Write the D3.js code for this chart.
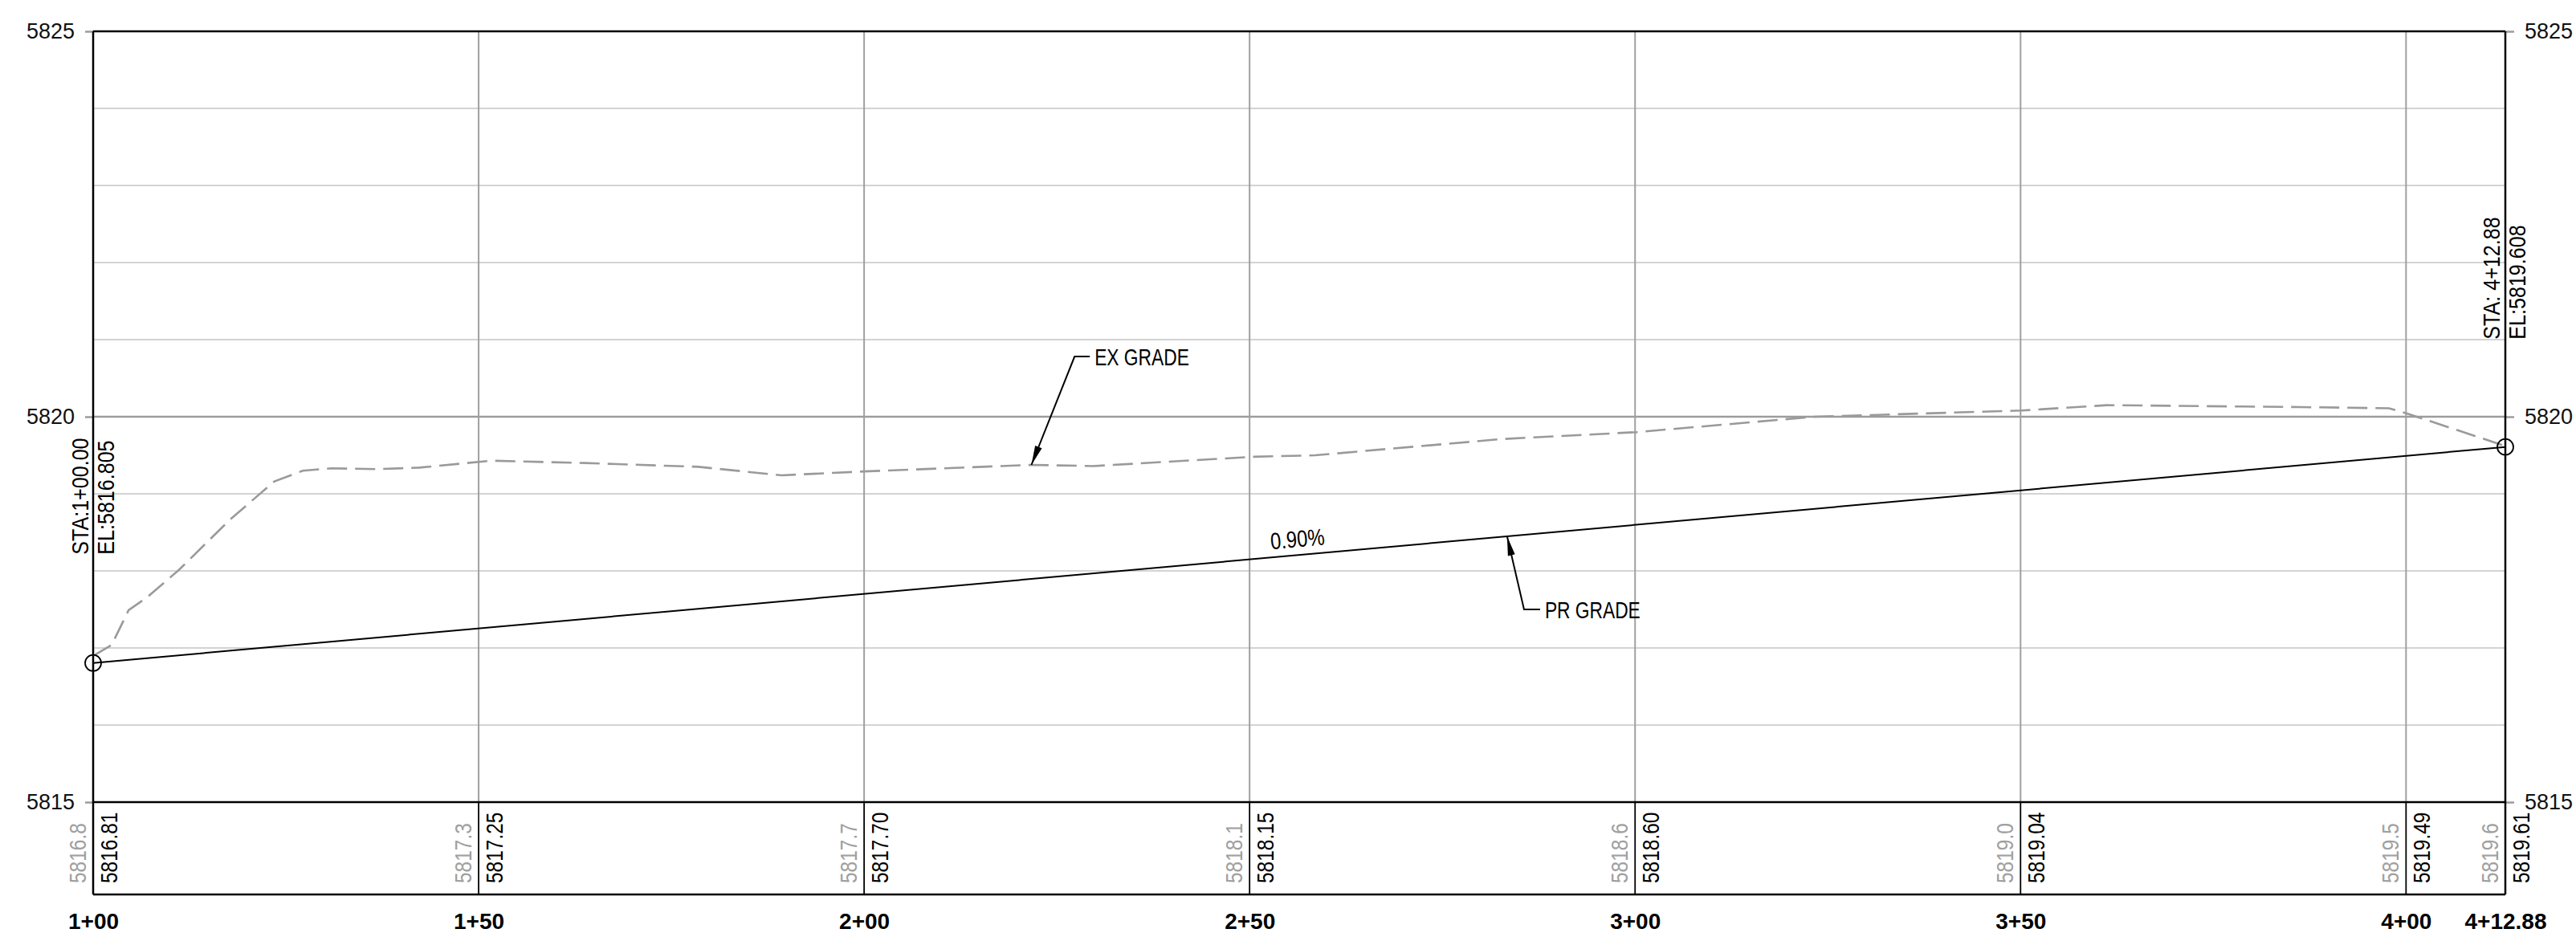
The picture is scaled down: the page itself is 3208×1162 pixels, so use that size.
<!DOCTYPE html>
<html>
<head>
<meta charset="utf-8">
<script src="https://cdn.jsdelivr.net/npm/d3@7/dist/d3.min.js"></script>
<style>
  html, body { margin: 0; padding: 0; background: #fff; }
  svg { display: block; }
  text { font-family: "Liberation Sans", Arial, sans-serif; }
</style>
</head>
<body>
<svg id="chart" width="3208" height="1162"></svg>
<script>
// ---------- DATA ----------
const stations = [100, 150, 200, 250, 300, 350, 400, 412.88];
const stationLabels = ["1+00", "1+50", "2+00", "2+50", "3+00", "3+50", "4+00", "4+12.88"];
const exElevLabels = ["5816.8", "5817.3", "5817.7", "5818.1", "5818.6", "5819.0", "5819.5", "5819.6"];
const prElevLabels = ["5816.81", "5817.25", "5817.70", "5818.15", "5818.60", "5819.04", "5819.49", "5819.61"];
const elevTicks = [5815, 5820, 5825];
const gridElevs = [5816, 5817, 5818, 5819, 5821, 5822, 5823, 5824];

const prStations = [100, 412.88];
const prElevs = [5816.805, 5819.608];
const prEndLabels = [["STA:1+00.00", "EL:5816.805"], ["STA: 4+12.88", "EL:5819.608"]];
const gradeText = "0.90%";

const exStations = [100.05, 102.4, 104.6, 106.9, 111.1, 117.8, 123.5, 127.2, 130.9, 137.0, 142.3, 151.7, 163.7, 178.5, 189.3, 200.0, 221.7, 229.7, 250.5, 258.5, 282.7, 300.2, 323.3, 350.1, 361.2, 386.3, 397.8, 400.2, 412.7];
const exElevs = [5816.90, 5817.04, 5817.49, 5817.65, 5818.01, 5818.67, 5819.16, 5819.30, 5819.33, 5819.32, 5819.34, 5819.43, 5819.40, 5819.35, 5819.24, 5819.29, 5819.375, 5819.36, 5819.48, 5819.50, 5819.71, 5819.80, 5820.00, 5820.08, 5820.15, 5820.125, 5820.11, 5820.04, 5819.625];

// annotation anchors (data units)
const exLeader = { tipStation: 221.7, bendStation: 227.3, bendElev: 5820.78, textStation: 229.9, textElev: 5820.665, text: "EX GRADE" };
const prLeader = { tipStation: 283.4, bendStation: 285.6, bendElev: 5817.50, textStation: 288.3, textElev: 5817.385, text: "PR GRADE" };
const gradeLabelStation = 252.8;

// ---------- LAYOUT ----------
const mLeft = 116, mRight = 3120, mTop = 39, plotBottom = 999, stripBottom = 1114;
const x = d3.scaleLinear().domain([stations[0], stations[stations.length - 1]]).range([mLeft, mRight]);
const y = d3.scaleLinear().domain([elevTicks[0], elevTicks[elevTicks.length - 1]]).range([plotBottom, mTop]);
const prAt = s => prElevs[0] + (s - prStations[0]) * (prElevs[1] - prElevs[0]) / (prStations[1] - prStations[0]);
const exAt = s => {
  for (let i = 1; i < exStations.length; i++) {
    if (s <= exStations[i]) {
      const t = (s - exStations[i-1]) / (exStations[i] - exStations[i-1]);
      return exElevs[i-1] + t * (exElevs[i] - exElevs[i-1]);
    }
  }
  return exElevs[exElevs.length - 1];
};

const svg = d3.select("#chart");
function narrow(sel, f) {
  sel.each(function() {
    const L = this.getComputedTextLength();
    d3.select(this).attr("textLength", L * f).attr("lengthAdjust", "spacingAndGlyphs");
  });
}

// minor horizontal grid
svg.append("g").selectAll("line").data(gridElevs).join("line")
  .attr("x1", mLeft).attr("x2", mRight)
  .attr("y1", d => y(d)).attr("y2", d => y(d))
  .attr("stroke", "#c4c4c4").attr("stroke-width", 1.5);

// major 5820 line
svg.append("line").attr("x1", mLeft).attr("x2", mRight)
  .attr("y1", y(elevTicks[1])).attr("y2", y(elevTicks[1]))
  .attr("stroke", "#9c9c9c").attr("stroke-width", 2.5);

// vertical grid (plot area)
svg.append("g").selectAll("line").data(stations.slice(1, -1)).join("line")
  .attr("x1", d => x(d)).attr("x2", d => x(d))
  .attr("y1", mTop).attr("y2", plotBottom)
  .attr("stroke", "#a0a0a0").attr("stroke-width", 2);

// vertical lines in data strip
svg.append("g").selectAll("line").data(stations.slice(1, -1)).join("line")
  .attr("x1", d => x(d)).attr("x2", d => x(d))
  .attr("y1", plotBottom).attr("y2", stripBottom)
  .attr("stroke", "#000").attr("stroke-width", 1.8);

// y axes
const yl = svg.append("g").attr("transform", `translate(${mLeft},0)`)
  .call(d3.axisLeft(y).tickValues(elevTicks).tickSize(10).tickPadding(13).tickFormat(d3.format("d")));
const yr = svg.append("g").attr("transform", `translate(${mRight},0)`)
  .call(d3.axisRight(y).tickValues(elevTicks).tickSize(11).tickPadding(13).tickFormat(d3.format("d")));
[yl, yr].forEach(g => {
  g.select(".domain").remove();
  g.selectAll(".tick line").attr("stroke", "#9c9c9c").attr("stroke-width", 2.5);
  g.selectAll(".tick text").attr("font-size", 27).attr("fill", "#111")
    .attr("font-family", "Liberation Sans, Arial, sans-serif");
});

// borders
const border = svg.append("g").attr("stroke", "#000").attr("stroke-width", 2.5);
border.append("line").attr("x1", mLeft).attr("x2", mRight).attr("y1", mTop).attr("y2", mTop);
border.append("line").attr("x1", mLeft).attr("x2", mRight).attr("y1", plotBottom).attr("y2", plotBottom);
border.append("line").attr("x1", mLeft).attr("x2", mRight).attr("y1", stripBottom).attr("y2", stripBottom);
border.append("line").attr("x1", mLeft).attr("x2", mLeft).attr("y1", mTop).attr("y2", stripBottom);
border.append("line").attr("x1", mRight).attr("x2", mRight).attr("y1", mTop).attr("y2", stripBottom);

// existing grade (dashed)
const line = d3.line().x(d => x(d[0])).y(d => y(d[1]));
svg.append("path").datum(exStations.map((s, i) => [s, exElevs[i]]))
  .attr("d", line).attr("fill", "none")
  .attr("stroke", "#9a9a9a").attr("stroke-width", 2.6)
  .attr("stroke-dasharray", "25,10");

// proposed grade
svg.append("path").datum(prStations.map((s, i) => [s, prElevs[i]]))
  .attr("d", line).attr("fill", "none")
  .attr("stroke", "#000").attr("stroke-width", 2);

svg.append("g").selectAll("circle").data(prStations).join("circle")
  .attr("cx", d => x(d)).attr("cy", (d, i) => y(prElevs[i])).attr("r", 10)
  .attr("fill", "none").attr("stroke", "#000").attr("stroke-width", 1.8);

// PVI labels (vertical)
const endG = svg.append("g");
prStations.forEach((s, i) => {
  const px = x(s);
  const baseY = y(prElevs[i]) - (i === 0 ? 135 : 134);
  const offs = [-6, 26];
  prEndLabels[i].forEach((t, j) => {
    endG.append("text").text(t)
      .attr("transform", `translate(${px + offs[j] - (i === 0 ? 0 : 1)},${baseY}) rotate(-90)`)
      .attr("font-size", 29).attr("fill", "#000")
      .call(narrow, 0.865);
  });
});

// grade percentage label, rotated along the grade
const ang = Math.atan2(y(prElevs[1]) - y(prElevs[0]), x(prStations[1]) - x(prStations[0])) * 180 / Math.PI;
svg.append("text").text(gradeText)
  .attr("transform", `translate(${x(gradeLabelStation)},${y(prAt(gradeLabelStation)) - 10}) rotate(${ang})`)
  .attr("font-size", 29).attr("fill", "#000").call(narrow, 0.82);

// leaders with arrows
function leader(L, tipElev) {
  const tip = [x(L.tipStation), y(tipElev)];
  const bend = [x(L.bendStation), y(L.bendElev)];
  const tx = x(L.textStation), ty = y(L.textElev);
  const g = svg.append("g");
  g.append("polyline")
    .attr("points", [tip, bend, [tx - 6, bend[1]]].map(p => p.join(",")).join(" "))
    .attr("fill", "none").attr("stroke", "#000").attr("stroke-width", 2);
  const dx = bend[0] - tip[0], dy = bend[1] - tip[1];
  const len = Math.hypot(dx, dy), ux = dx / len, uy = dy / len;
  const al = 24, aw = 4.5;
  const b = [tip[0] + ux * al, tip[1] + uy * al];
  g.append("polygon")
    .attr("points", [tip, [b[0] - uy * aw, b[1] + ux * aw], [b[0] + uy * aw, b[1] - ux * aw]].map(p => p.join(",")).join(" "))
    .attr("fill", "#000");
  g.append("text").text(L.text).attr("x", tx).attr("y", ty)
    .attr("font-size", 29).attr("fill", "#000").call(narrow, 0.785);
}
leader(exLeader, exAt(exLeader.tipStation));
leader(prLeader, prAt(prLeader.tipStation));

// data strip labels
const strip = svg.append("g");
stations.forEach((s, i) => {
  const px = x(s);
  strip.append("text").text(exElevLabels[i])
    .attr("transform", `translate(${px - 9},1100) rotate(-90)`)
    .attr("font-size", 30).attr("fill", "#a0a0a0").call(narrow, 0.815);
  strip.append("text").text(prElevLabels[i])
    .attr("transform", `translate(${px + 30},1100) rotate(-90)`)
    .attr("font-size", 30).attr("fill", "#000").call(narrow, 0.815);
});

// station axis
const xa = svg.append("g").attr("transform", `translate(0,${stripBottom})`)
  .call(d3.axisBottom(x).tickValues(stations).tickSize(0).tickPadding(23)
    .tickFormat((d, i) => stationLabels[i]));
xa.select(".domain").remove();
xa.selectAll(".tick text").attr("font-size", 28).attr("font-weight", "bold").attr("fill", "#000")
  .attr("font-family", "Liberation Sans, Arial, sans-serif");
</script>
</body>
</html>
